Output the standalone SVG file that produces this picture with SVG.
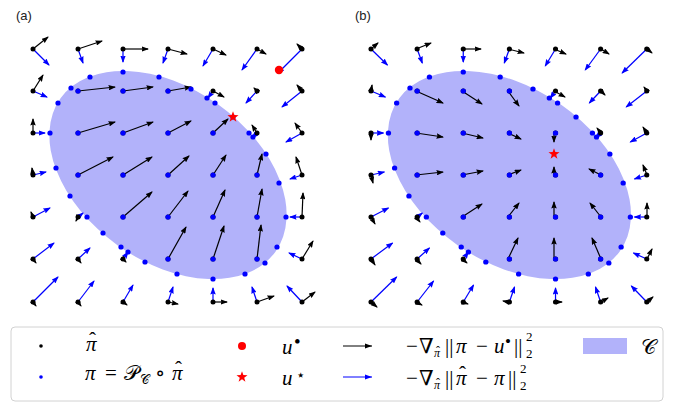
<svg xmlns="http://www.w3.org/2000/svg" xmlns:xlink="http://www.w3.org/1999/xlink" width="675" height="404" viewBox="0 0 675 404">
<style>
.ak{stroke:#000;stroke-width:1.2;fill:none;marker-end:url(#hk)}
.ab{stroke:#0000ff;stroke-width:1.2;fill:none;marker-end:url(#hb)}
.dk{fill:#000}
.db{fill:#0000ff}
.ell{fill:#b2b2fa}
.lbl{font-family:"Liberation Sans",Arial,sans-serif;font-size:13px;fill:#222}
.m{font-family:"Liberation Serif","DejaVu Serif",serif;font-size:21px;fill:#000}
.i{font-style:italic}
.cal{font-family:"DejaVu Sans","DejaVu Serif","Noto Sans",serif;font-style:normal}
</style>
<defs>
<marker id="hk" markerUnits="userSpaceOnUse" markerWidth="7.5" markerHeight="5.5" viewBox="0 0 7.5 5.5" refX="6.5" refY="2.75" orient="auto"><path d="M0,0 L7.5,2.75 L0,5.5 L0.9,2.75 z" fill="#000"/></marker>
<marker id="hb" markerUnits="userSpaceOnUse" markerWidth="7.5" markerHeight="5.5" viewBox="0 0 7.5 5.5" refX="6.5" refY="2.75" orient="auto"><path d="M0,0 L7.5,2.75 L0,5.5 L0.9,2.75 z" fill="#0000ff"/></marker>
<path id="star" d="M0,-5.8 L1.37,-1.88 L5.52,-1.79 L2.21,0.71 L3.41,4.69 L0,2.32 L-3.41,4.69 L-2.21,0.71 L-5.52,-1.79 L-1.37,-1.88 Z" fill="#ff0000"/>
<g id="ellA"><ellipse class="ell" cx="168" cy="175" rx="132" ry="86.5" transform="rotate(35.5 168 175)"/></g>
<g id="projA">
<g id="blue-arrows">
<line class="ab" x1="33" y1="49" x2="49" y2="65"/>
<line class="ab" x1="78" y1="49" x2="83" y2="63"/>
<line class="ab" x1="123" y1="49" x2="123" y2="62"/>
<line class="ab" x1="168" y1="49" x2="163" y2="63"/>
<line class="ab" x1="213" y1="49" x2="203" y2="66"/>
<line class="ab" x1="257" y1="49" x2="242" y2="70"/>
<line class="ab" x1="302" y1="49" x2="278" y2="73"/>
<line class="ab" x1="33" y1="91" x2="47" y2="97"/>
<line class="ab" x1="213" y1="91" x2="208" y2="98"/>
<line class="ab" x1="257" y1="91" x2="246" y2="103"/>
<line class="ab" x1="302" y1="91" x2="282" y2="107"/>
<line class="ab" x1="33" y1="133" x2="45" y2="133"/>
<line class="ab" x1="257" y1="133" x2="252" y2="138"/>
<line class="ab" x1="302" y1="133" x2="286" y2="142"/>
<line class="ab" x1="33" y1="175" x2="46" y2="172"/>
<line class="ab" x1="302" y1="175" x2="290" y2="179"/>
<line class="ab" x1="33" y1="217" x2="50" y2="208"/>
<line class="ab" x1="78" y1="217" x2="83" y2="213"/>
<line class="ab" x1="302" y1="217" x2="290" y2="217"/>
<line class="ab" x1="33" y1="259" x2="54" y2="243"/>
<line class="ab" x1="78" y1="259" x2="90" y2="248"/>
<line class="ab" x1="123" y1="259" x2="128" y2="252"/>
<line class="ab" x1="302" y1="259" x2="289" y2="253"/>
<line class="ab" x1="33" y1="302" x2="58" y2="277"/>
<line class="ab" x1="78" y1="302" x2="94" y2="281"/>
<line class="ab" x1="123" y1="302" x2="133" y2="285"/>
<line class="ab" x1="168" y1="302" x2="173" y2="287"/>
<line class="ab" x1="213" y1="302" x2="213" y2="288"/>
<line class="ab" x1="257" y1="302" x2="252" y2="287"/>
<line class="ab" x1="302" y1="302" x2="287" y2="286"/>
</g>
<g id="grid-dots" class="dk">
<circle cx="33" cy="49" r="2.5"/><circle cx="78" cy="49" r="2.5"/><circle cx="123" cy="49" r="2.5"/><circle cx="168" cy="49" r="2.5"/><circle cx="213" cy="49" r="2.5"/><circle cx="257" cy="49" r="2.5"/><circle cx="302" cy="49" r="2.5"/>
<circle cx="33" cy="91" r="2.5"/><circle cx="78" cy="91" r="2.5"/><circle cx="123" cy="91" r="2.5"/><circle cx="168" cy="91" r="2.5"/><circle cx="213" cy="91" r="2.5"/><circle cx="257" cy="91" r="2.5"/><circle cx="302" cy="91" r="2.5"/>
<circle cx="33" cy="133" r="2.5"/><circle cx="78" cy="133" r="2.5"/><circle cx="123" cy="133" r="2.5"/><circle cx="168" cy="133" r="2.5"/><circle cx="213" cy="133" r="2.5"/><circle cx="257" cy="133" r="2.5"/><circle cx="302" cy="133" r="2.5"/>
<circle cx="33" cy="175" r="2.5"/><circle cx="78" cy="175" r="2.5"/><circle cx="123" cy="175" r="2.5"/><circle cx="168" cy="175" r="2.5"/><circle cx="213" cy="175" r="2.5"/><circle cx="257" cy="175" r="2.5"/><circle cx="302" cy="175" r="2.5"/>
<circle cx="33" cy="217" r="2.5"/><circle cx="78" cy="217" r="2.5"/><circle cx="123" cy="217" r="2.5"/><circle cx="168" cy="217" r="2.5"/><circle cx="213" cy="217" r="2.5"/><circle cx="257" cy="217" r="2.5"/><circle cx="302" cy="217" r="2.5"/>
<circle cx="33" cy="259" r="2.5"/><circle cx="78" cy="259" r="2.5"/><circle cx="123" cy="259" r="2.5"/><circle cx="168" cy="259" r="2.5"/><circle cx="213" cy="259" r="2.5"/><circle cx="257" cy="259" r="2.5"/><circle cx="302" cy="259" r="2.5"/>
<circle cx="33" cy="302" r="2.5"/><circle cx="78" cy="302" r="2.5"/><circle cx="123" cy="302" r="2.5"/><circle cx="168" cy="302" r="2.5"/><circle cx="213" cy="302" r="2.5"/><circle cx="257" cy="302" r="2.5"/><circle cx="302" cy="302" r="2.5"/>
</g>
<g id="proj-dots" class="db">
<circle cx="78" cy="91" r="2.6"/><circle cx="123" cy="91" r="2.6"/><circle cx="168" cy="91" r="2.6"/>
<circle cx="78" cy="133" r="2.6"/><circle cx="123" cy="133" r="2.6"/><circle cx="168" cy="133" r="2.6"/><circle cx="213" cy="133" r="2.6"/>
<circle cx="78" cy="175" r="2.6"/><circle cx="123" cy="175" r="2.6"/><circle cx="168" cy="175" r="2.6"/><circle cx="213" cy="175" r="2.6"/><circle cx="257" cy="175" r="2.6"/>
<circle cx="123" cy="217" r="2.6"/><circle cx="168" cy="217" r="2.6"/><circle cx="213" cy="217" r="2.6"/><circle cx="257" cy="217" r="2.6"/>
<circle cx="168" cy="259" r="2.6"/><circle cx="213" cy="259" r="2.6"/><circle cx="257" cy="259" r="2.6"/>
<circle cx="50" cy="133" r="2.6"/><circle cx="58" cy="103" r="2.6"/><circle cx="71" cy="88" r="2.6"/><circle cx="90" cy="77" r="2.6"/><circle cx="123" cy="72" r="2.6"/><circle cx="159" cy="77" r="2.6"/><circle cx="191" cy="89" r="2.6"/><circle cx="207" cy="98" r="2.6"/><circle cx="215" cy="103" r="2.6"/><circle cx="233" cy="117" r="2.6"/><circle cx="249" cy="133" r="2.6"/><circle cx="253" cy="137" r="2.6"/><circle cx="266" cy="154" r="2.6"/><circle cx="279" cy="183" r="2.6"/><circle cx="286" cy="217" r="2.6"/><circle cx="277" cy="247" r="2.6"/><circle cx="265" cy="263" r="2.6"/><circle cx="245" cy="274" r="2.6"/><circle cx="213" cy="279" r="2.6"/><circle cx="177" cy="274" r="2.6"/><circle cx="145" cy="262" r="2.6"/><circle cx="128" cy="252" r="2.6"/><circle cx="121" cy="247" r="2.6"/><circle cx="103" cy="233" r="2.6"/><circle cx="87" cy="217" r="2.6"/><circle cx="70" cy="196" r="2.6"/><circle cx="56" cy="168" r="2.6"/>
</g>
</g>
</defs>

<g id="panel-a">
<text class="lbl" x="16" y="20">(a)</text>
<use href="#ellA" xlink:href="#ellA"/>
<g id="black-arrows-a">
<line class="ak" x1="33" y1="49" x2="48" y2="37"/>
<line class="ak" x1="78" y1="49" x2="102" y2="41"/>
<line class="ak" x1="123" y1="49" x2="148" y2="49"/>
<line class="ak" x1="168" y1="49" x2="187" y2="54"/>
<line class="ak" x1="213" y1="49" x2="226" y2="55"/>
<line class="ak" x1="257" y1="49" x2="266" y2="54"/>
<line class="ak" x1="302" y1="49" x2="297" y2="44"/>
<line class="ak" x1="33" y1="91" x2="43" y2="75"/>
<line class="ak" x1="78" y1="91" x2="115" y2="87"/>
<line class="ak" x1="123" y1="91" x2="153" y2="87"/>
<line class="ak" x1="168" y1="91" x2="191" y2="87"/>
<line class="ak" x1="213" y1="91" x2="224" y2="97"/>
<line class="ak" x1="257" y1="91" x2="254" y2="88"/>
<line class="ak" x1="302" y1="91" x2="297" y2="85"/>
<line class="ak" x1="33" y1="133" x2="33" y2="119"/>
<line class="ak" x1="78" y1="133" x2="115" y2="122"/>
<line class="ak" x1="123" y1="133" x2="153" y2="122"/>
<line class="ak" x1="168" y1="133" x2="191" y2="121"/>
<line class="ak" x1="213" y1="133" x2="228" y2="119"/>
<line class="ak" x1="257" y1="133" x2="252" y2="125"/>
<line class="ak" x1="302" y1="133" x2="295" y2="123"/>
<line class="ak" x1="33" y1="175" x2="32" y2="168"/>
<line class="ak" x1="78" y1="175" x2="113" y2="157"/>
<line class="ak" x1="123" y1="175" x2="152" y2="157"/>
<line class="ak" x1="168" y1="175" x2="189" y2="156"/>
<line class="ak" x1="213" y1="175" x2="226" y2="155"/>
<line class="ak" x1="257" y1="175" x2="262" y2="154"/>
<line class="ak" x1="302" y1="175" x2="296" y2="157"/>
<line class="ak" x1="33" y1="217" x2="31" y2="212"/>
<line class="ak" x1="78" y1="217" x2="76" y2="221"/>
<line class="ak" x1="123" y1="217" x2="152" y2="192"/>
<line class="ak" x1="168" y1="217" x2="188" y2="191"/>
<line class="ak" x1="213" y1="217" x2="225" y2="190"/>
<line class="ak" x1="257" y1="217" x2="262" y2="189"/>
<line class="ak" x1="302" y1="217" x2="303" y2="193"/>
<line class="ak" x1="33" y1="259" x2="36" y2="263"/>
<line class="ak" x1="78" y1="259" x2="81" y2="263"/>
<line class="ak" x1="123" y1="259" x2="126" y2="262"/>
<line class="ak" x1="168" y1="259" x2="186" y2="227"/>
<line class="ak" x1="213" y1="259" x2="224" y2="226"/>
<line class="ak" x1="257" y1="259" x2="261" y2="225"/>
<line class="ak" x1="302" y1="259" x2="313" y2="241"/>
<line class="ak" x1="33" y1="302" x2="36" y2="306"/>
<line class="ak" x1="78" y1="302" x2="81" y2="306"/>
<line class="ak" x1="123" y1="302" x2="127" y2="305"/>
<line class="ak" x1="168" y1="302" x2="178" y2="304"/>
<line class="ak" x1="213" y1="302" x2="227" y2="302"/>
<line class="ak" x1="257" y1="302" x2="274" y2="296"/>
<line class="ak" x1="302" y1="302" x2="315" y2="292"/>
</g>
<use href="#projA" xlink:href="#projA"/>
<circle id="u-dot-a" cx="279" cy="70" r="4.2" fill="#ff0000"/>
<use id="u-star-a" href="#star" xlink:href="#star" x="233" y="117"/>
</g>

<g id="panel-b">
<text class="lbl" x="355" y="20">(b)</text>
<use href="#ellA" xlink:href="#ellA" transform="matrix(1.025,0,0,1,337.2,0)"/>
<g id="black-arrows-b">
<line class="ak" x1="371" y1="49" x2="378" y2="43"/>
<line class="ak" x1="416" y1="49" x2="431" y2="43"/>
<line class="ak" x1="462" y1="49" x2="481" y2="49"/>
<line class="ak" x1="508" y1="49" x2="524" y2="53"/>
<line class="ak" x1="554" y1="49" x2="566" y2="54"/>
<line class="ak" x1="601" y1="49" x2="609" y2="54"/>
<line class="ak" x1="647" y1="49" x2="652" y2="53"/>
<line class="ak" x1="371" y1="91" x2="372" y2="85"/>
<line class="ak" x1="416" y1="91" x2="443" y2="103"/>
<line class="ak" x1="462" y1="91" x2="482" y2="104"/>
<line class="ak" x1="508" y1="91" x2="519" y2="106"/>
<line class="ak" x1="554" y1="91" x2="565" y2="97"/>
<line class="ak" x1="601" y1="91" x2="605" y2="95"/>
<line class="ak" x1="647" y1="91" x2="644" y2="87"/>
<line class="ak" x1="371" y1="133" x2="371" y2="140"/>
<line class="ak" x1="416" y1="133" x2="443" y2="137"/>
<line class="ak" x1="462" y1="133" x2="483" y2="138"/>
<line class="ak" x1="508" y1="133" x2="521" y2="139"/>
<line class="ak" x1="554" y1="133" x2="554" y2="142"/>
<line class="ak" x1="601" y1="133" x2="597" y2="128"/>
<line class="ak" x1="647" y1="133" x2="643" y2="127"/>
<line class="ak" x1="371" y1="175" x2="373" y2="183"/>
<line class="ak" x1="416" y1="175" x2="443" y2="172"/>
<line class="ak" x1="462" y1="175" x2="483" y2="171"/>
<line class="ak" x1="508" y1="175" x2="521" y2="170"/>
<line class="ak" x1="554" y1="175" x2="554" y2="167"/>
<line class="ak" x1="601" y1="175" x2="589" y2="169"/>
<line class="ak" x1="647" y1="175" x2="643" y2="165"/>
<line class="ak" x1="371" y1="217" x2="375" y2="224"/>
<line class="ak" x1="416" y1="217" x2="420" y2="222"/>
<line class="ak" x1="462" y1="217" x2="482" y2="204"/>
<line class="ak" x1="508" y1="217" x2="519" y2="203"/>
<line class="ak" x1="554" y1="217" x2="554" y2="202"/>
<line class="ak" x1="601" y1="217" x2="590" y2="203"/>
<line class="ak" x1="647" y1="217" x2="647" y2="203"/>
<line class="ak" x1="371" y1="259" x2="375" y2="265"/>
<line class="ak" x1="416" y1="259" x2="421" y2="264"/>
<line class="ak" x1="462" y1="259" x2="467" y2="263"/>
<line class="ak" x1="508" y1="259" x2="518" y2="238"/>
<line class="ak" x1="554" y1="259" x2="554" y2="238"/>
<line class="ak" x1="601" y1="259" x2="592" y2="238"/>
<line class="ak" x1="647" y1="259" x2="652" y2="249"/>
<line class="ak" x1="371" y1="302" x2="377" y2="307"/>
<line class="ak" x1="416" y1="302" x2="422" y2="305"/>
<line class="ak" x1="462" y1="302" x2="468" y2="304"/>
<line class="ak" x1="508" y1="302" x2="503" y2="301"/>
<line class="ak" x1="554" y1="302" x2="562" y2="302"/>
<line class="ak" x1="601" y1="302" x2="608" y2="298"/>
<line class="ak" x1="647" y1="302" x2="653" y2="297"/>
</g>
<use href="#projA" xlink:href="#projA" transform="matrix(1.025,0,0,1,337.2,0)"/>
<use id="u-star-b" href="#star" xlink:href="#star" x="554" y="154"/>
</g>

<g id="legend">
<rect x="11" y="327" width="652" height="74" rx="4" fill="#fff" stroke="#d2d2d2" stroke-width="1"/>
<g id="leg-pihat"><circle cx="41" cy="346" r="1.8" fill="#000"/><text class="m" y="351"><tspan class="i" x="86">π</tspan><tspan x="89" y="347">ˆ</tspan></text></g>
<g id="leg-pi"><circle cx="41" cy="377" r="1.8" fill="#0000ff"/>
<text class="m" y="380"><tspan class="i" x="85">π</tspan><tspan x="105">=</tspan><tspan class="cal i" x="124">𝒫</tspan><tspan class="cal" x="140" y="384" font-size="13">𝒞</tspan><tspan x="155" y="380">∘</tspan><tspan class="i" x="172">π</tspan><tspan x="175" y="376">ˆ</tspan></text></g>
<g id="leg-ubullet"><circle cx="242" cy="346" r="4" fill="#ff0000"/><text class="m" y="354"><tspan class="i" x="282">u</tspan><tspan x="294" y="348" font-size="19">•</tspan></text></g>
<g id="leg-ustar"><use href="#star" xlink:href="#star" x="242" y="377"/><text class="m" y="385"><tspan class="i" x="282">u</tspan><tspan x="296" y="380" font-size="15">⋆</tspan></text></g>
<g id="leg-grad1"><line x1="343" y1="346" x2="372" y2="346" stroke="#000" stroke-width="1"/><path d="M365,343.5 L372,346 L365,348.5 z" fill="#000"/>
<text class="m" y="353"><tspan x="406">−</tspan><tspan x="419">∇</tspan><tspan class="i" x="434" y="357" font-size="12">π</tspan><tspan x="436" y="355" font-size="12">ˆ</tspan><tspan x="445" y="353">||</tspan><tspan class="i" x="456">π</tspan><tspan x="476">−</tspan><tspan class="i" x="494">u</tspan><tspan x="505" y="347" font-size="17">•</tspan><tspan x="514" y="353">||</tspan><tspan x="526" y="341" font-size="13">2</tspan><tspan x="526" y="358" font-size="13">2</tspan></text></g>
<g id="leg-grad2"><line x1="343" y1="377" x2="372" y2="377" stroke="#0000ff" stroke-width="1"/><path d="M365,374.5 L372,377 L365,379.5 z" fill="#0000ff"/>
<text class="m" y="385"><tspan x="406">−</tspan><tspan x="419">∇</tspan><tspan class="i" x="434" y="389" font-size="12">π</tspan><tspan x="436" y="387" font-size="12">ˆ</tspan><tspan x="445" y="385">||</tspan><tspan class="i" x="456">π</tspan><tspan x="459" y="381">ˆ</tspan><tspan x="476" y="385">−</tspan><tspan class="i" x="494">π</tspan><tspan x="508">||</tspan><tspan x="520" y="373" font-size="13">2</tspan><tspan x="520" y="390" font-size="13">2</tspan></text></g>
<g id="leg-C"><rect x="583" y="338" width="44" height="16" fill="#b2b2fa"/><text class="m" x="641" y="354"><tspan class="cal">𝒞</tspan></text></g>
</g>
</svg>
